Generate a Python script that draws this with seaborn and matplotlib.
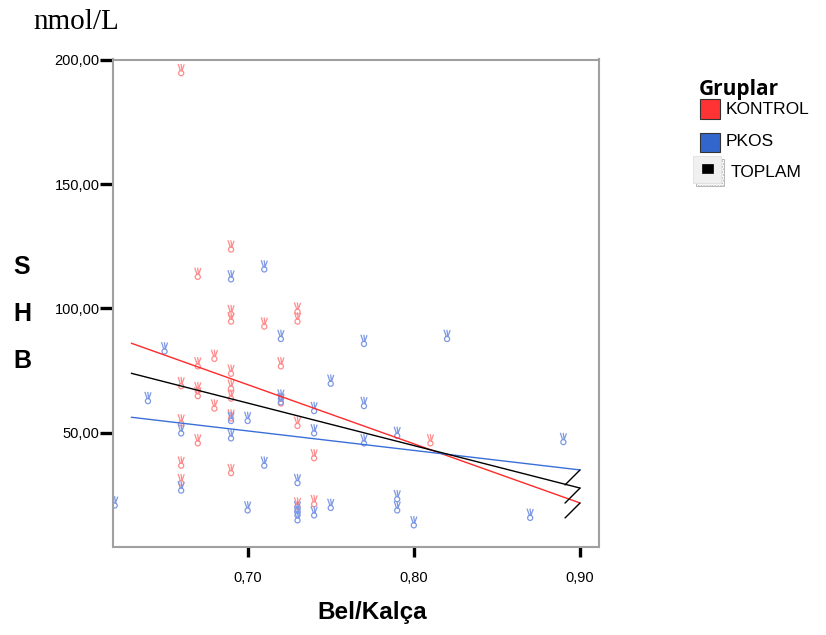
import matplotlib
matplotlib.use("Agg")
import matplotlib.pyplot as plt
import matplotlib.patches as mpatches
from matplotlib.path import Path
import numpy as np
import pandas as pd
import seaborn as sns

# Waist/hip ratio (Bel/Kalça) and SHBG (nmol/L) per group
kontrol_x = [0.66, 0.66, 0.66, 0.66, 0.66,
             0.67, 0.67, 0.67, 0.67, 0.67,
             0.68, 0.68,
             0.69, 0.69, 0.69, 0.69, 0.69, 0.69, 0.69, 0.69,
             0.71, 0.72, 0.72,
             0.73, 0.73, 0.73, 0.73,
             0.74, 0.74, 0.81]
kontrol_y = [196.0, 70.0, 55.0, 38.0, 31.0,
             114.0, 78.0, 68.0, 66.0, 47.0,
             81.0, 61.0,
             125.0, 99.0, 96.0, 75.0, 69.0, 65.0, 57.0, 35.0,
             94.0, 78.0, 63.0,
             100.0, 96.0, 54.0, 21.5,
             41.0, 22.5, 47.0]

pkos_x = [0.62, 0.64, 0.65, 0.66, 0.66,
          0.69, 0.69, 0.69, 0.70, 0.70,
          0.71, 0.71, 0.72, 0.72, 0.72,
          0.73, 0.73, 0.73, 0.73,
          0.74, 0.74, 0.74, 0.75, 0.75,
          0.77, 0.77, 0.77, 0.79, 0.79, 0.79,
          0.80, 0.82, 0.87, 0.89]
pkos_y = [22.0, 64.0, 84.0, 51.0, 28.0,
          113.0, 56.0, 49.0, 56.0, 20.0,
          117.0, 38.0, 89.0, 65.0, 63.5,
          31.0, 20.0, 18.0, 16.0,
          60.0, 51.0, 18.0, 71.0, 21.0,
          87.0, 62.0, 47.0, 50.0, 24.5, 20.0,
          14.0, 89.0, 17.0, 47.5]

# Linear fit lines (start/end) for each group and the total
fit_x = [0.63, 0.90]
fit_kontrol = [86.0, 21.7]
fit_pkos = [56.2, 35.0]
fit_toplam = [73.9, 27.7]

x_ticks = [0.70, 0.80, 0.90]
x_tick_labels = ["0,70", "0,80", "0,90"]
y_ticks = [50, 100, 150, 200]
y_tick_labels = ["50,00", "100,00", "150,00", "200,00"]

line_colors = {"KONTROL": "#ff2a2a", "PKOS": "#3a6fd8", "TOPLAM": "#000000"}
point_colors = {"KONTROL": "#ff8c8c", "PKOS": "#7d98e4"}

points = pd.DataFrame({
    "x": kontrol_x + pkos_x,
    "y": kontrol_y + pkos_y,
    "grup": ["KONTROL"] * len(kontrol_x) + ["PKOS"] * len(pkos_x),
})
fits = pd.DataFrame({
    "x": fit_x * 3,
    "y": fit_kontrol + fit_pkos + fit_toplam,
    "grup": ["KONTROL"] * 2 + ["PKOS"] * 2 + ["TOPLAM"] * 2,
})

# "victory hand" style marker: two raised fingers over a small fist
_circle = Path.circle((0.0, -0.42), 0.33)
_fingers = Path([(-0.40, 0.78), (-0.10, -0.10), (-0.02, 0.78), (0.10, -0.10),
                 (0.40, 0.72)],
                [Path.MOVETO, Path.LINETO, Path.MOVETO, Path.LINETO, Path.LINETO])
hand_marker = Path.make_compound_path(_fingers, _circle)

sns.set_theme(style="white")
plt.rcParams["font.family"] = ["Liberation Sans", "DejaVu Sans"]
plt.rcParams["text.color"] = "black"
plt.rcParams["xtick.color"] = "black"
plt.rcParams["ytick.color"] = "black"

W, H = 826, 635
fig = plt.figure(figsize=(W / 100, H / 100), dpi=100)
ax = fig.add_axes([112.7 / W, 1 - 546.7 / H, (599.3 - 112.7) / W, (546.7 - 59.5) / H])

sns.scatterplot(data=points, x="x", y="y", hue="grup", palette=point_colors,
                marker=hand_marker, s=75, legend=False, ax=ax, zorder=2)
coll = ax.collections[0]
fc = coll.get_facecolors()
coll.set_edgecolors(fc)
coll.set_facecolors("none")
coll.set_linewidths(0.9)

sns.lineplot(data=fits, x="x", y="y", hue="grup", palette=line_colors,
             linewidth=1.0, legend=False, ax=ax, zorder=3, estimator=None, sort=False)

# small closing strokes at the right end of each fit line
for ys in (fit_kontrol, fit_pkos, fit_toplam):
    ax.annotate("", xy=(fit_x[1], ys[1]), xytext=(-15, -15), textcoords="offset pixels",
                arrowprops=dict(arrowstyle="-", color="black", lw=1.0,
                                shrinkA=0, shrinkB=0), zorder=4)

ax.set_xlim(0.6188, 0.9116)
ax.set_ylim(4.1, 200.2)
ax.set_xticks(x_ticks)
ax.set_xticklabels(x_tick_labels)
ax.set_yticks(y_ticks)
ax.set_yticklabels(y_tick_labels)
ax.tick_params(axis="x", direction="out", length=7.5, width=2.4, color="black",
               labelcolor="black", pad=10, labelsize=10.5, bottom=True)
ax.tick_params(axis="y", direction="out", length=9.4, width=2.4, color="black",
               labelcolor="black", pad=0, labelsize=10.5, left=True)
ax.set_xlabel("")
ax.set_ylabel("")
for sp in ax.spines.values():
    sp.set_color("#a0a0a0")
    sp.set_linewidth(1.5)
ax.grid(False)

# axis titles
fig.text(372 / W, 1 - 612 / H, "Bel/Kalça", ha="center", va="center",
         fontsize=17.5, fontweight="bold", color="black")
for letter, py in zip("SHB", [267, 314, 361]):
    fig.text(22 / W, 1 - py / H, letter, ha="center", va="center",
             fontsize=18, fontweight="bold", color="black")
fig.text(33 / W, 1 - 22 / H, "nmol/L", ha="left", va="center",
         fontsize=21, family="Liberation Serif", color="black")

# group legend
fig.text(699 / W, 1 - 90 / H, "Gruplar", ha="left", va="center",
         fontsize=15, fontweight="bold", family="Open Sans", color="black")
def px_rect(x0, y0, x1, y1, **kw):
    return mpatches.Rectangle((x0 / W, 1 - y1 / H), (x1 - x0) / W, (y1 - y0) / H,
                              transform=fig.transFigure, **kw)
fig.patches.append(px_rect(700, 99, 720, 119, facecolor="#ff3333", edgecolor="#333333", lw=0.8))
fig.patches.append(px_rect(700, 133, 720, 152, facecolor="#3366cc", edgecolor="#333333", lw=0.8))
fig.patches.append(px_rect(696, 159, 724, 186, facecolor="none", edgecolor="#b0b0b0", lw=0.6, hatch="......"))
fig.patches.append(px_rect(693, 156, 721, 183, facecolor="#f0f0f0", edgecolor="#e0e0e0", lw=0.6))
fig.patches.append(px_rect(702, 164, 713, 173, facecolor="black", edgecolor="black", lw=0.5))
fig.text(726 / W, 1 - 110 / H, "KONTROL", ha="left", va="center", fontsize=12.5, color="black")
fig.text(726 / W, 1 - 142 / H, "PKOS", ha="left", va="center", fontsize=12.5, color="black")
fig.text(731 / W, 1 - 172 / H, "TOPLAM", ha="left", va="center", fontsize=12.5, color="black")

fig.savefig("out.png", dpi=100)
